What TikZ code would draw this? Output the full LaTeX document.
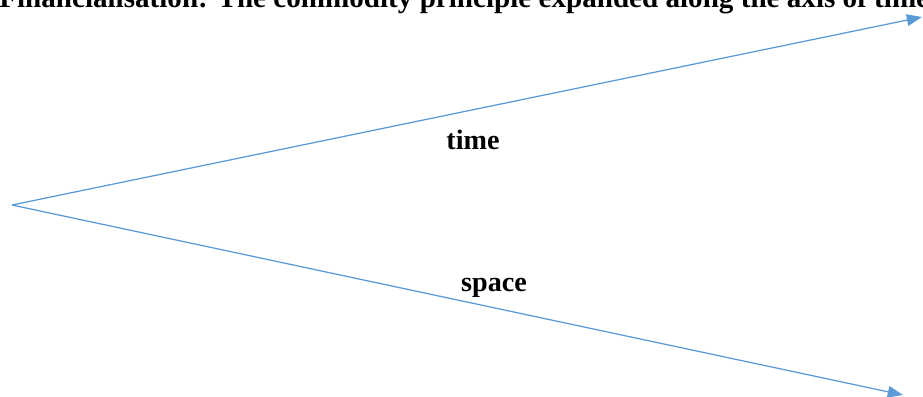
\documentclass[tikz,border=0pt]{standalone}
\usepackage{fontspec}
\setmainfont{Liberation Serif}
\usetikzlibrary{positioning, arrows.meta}
\definecolor{axisblue}{RGB}{91,155,213}
\tikzset{
    axisline/.style={-{Triangle[length=0.38cm, width=0.29cm]}, line width=0.9pt, color=axisblue},
    axislbl/.style={font=\fontsize{20}{24}\selectfont\bfseries, inner sep=0pt},
    titlelbl/.style={font=\fontsize{20.7}{24}\selectfont\bfseries, inner sep=0pt, anchor=base west}
}
\begin{document}
\begin{tikzpicture}[x=0.025cm, y=-0.025cm]
    \clip (0,0) rectangle (923,396);
    \useasboundingbox (0,0) rectangle (923,396);

    \node[titlelbl] (title) at (-1,7) {Financialisation: The commodity principle expanded along the axis of time and space};

    \coordinate (origin) at (12,205);
    \coordinate (tiptime) at (922,17);
    \coordinate (tipspace) at (903,395);

    \draw[axisline] (origin) -- (tiptime);
    \draw[axisline] (origin) -- (tipspace);

    \node[axislbl] (time) at (473,140) {time};
    \node[axislbl] (space) at (494,288) {space};
\end{tikzpicture}
\end{document}
